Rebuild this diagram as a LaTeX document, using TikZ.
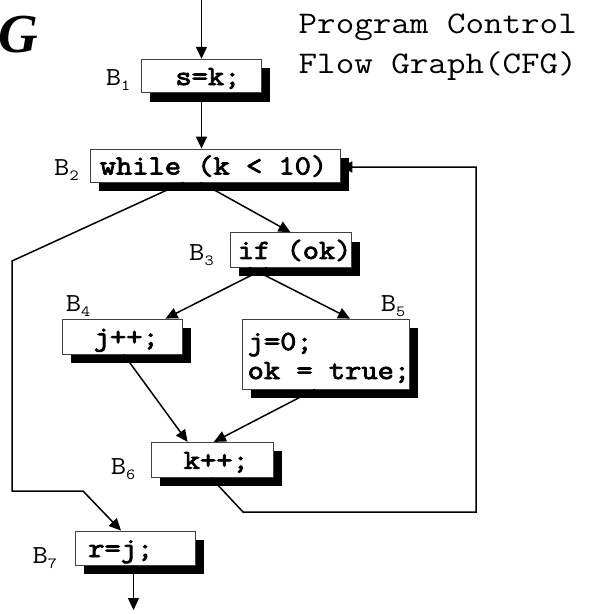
\documentclass[tikz,border=0pt]{standalone}
\usepackage{fontspec}
\setmainfont{Liberation Serif}
\usetikzlibrary{arrows.meta,shadows}
% Courier-like typewriter faces, widened to 0.6em per character
\newfontfamily\plainmono[FakeStretch=1.143]{Latin Modern Mono}
\newfontfamily\boldmono[FakeStretch=1.143,FakeBold=3]{Latin Modern Mono}
\newcommand{\blab}[1]{B\raisebox{-5pt}{\fontsize{15.5}{15.5}\selectfont #1}}
\begin{document}
\begin{tikzpicture}[x=1pt,y=-1pt,
  blk/.style={draw=black!75, line width=0.8pt, fill=white, inner sep=0pt,
    general shadow={fill=black, shadow xshift=8.5pt, shadow yshift=-9pt}},
  code/.style={inner sep=0pt, anchor=base west,
    font=\fontsize{27.6}{29}\selectfont\boldmono},
  lbl/.style={inner sep=0pt, anchor=base west,
    font=\fontsize{26}{26}\selectfont\plainmono},
  ttl/.style={inner sep=0pt, anchor=base west,
    font=\fontsize{31.5}{31.5}\selectfont\plainmono},
  arr/.style={line width=1.5pt, -{Triangle[length=12pt,width=11pt]}}]
\useasboundingbox (0,0) rectangle (592,614);

% heading
\node[inner sep=0pt, anchor=base west,
  font=\fontsize{55}{55}\selectfont\bfseries\itshape] (G) at (-1.5,52.5) {G};
\node[ttl] (title1) at (298.5,33.3) {Program Control};
\node[ttl] (title2) at (298.5,73.3) {Flow Graph(CFG)};

% basic blocks
\node[blk, minimum width=120.3pt, minimum height=33.7pt] (B1) at (201.5,76) {};
\node[blk, minimum width=249.3pt, minimum height=33pt]   (B2) at (215.35,165.5) {};
\node[blk, minimum width=121pt,   minimum height=34.3pt] (B3) at (290.5,249.85) {};
\node[blk, minimum width=120pt,   minimum height=35pt]   (B4) at (122.7,336.5) {};
\node[blk, minimum width=166.7pt, minimum height=70pt]   (B5) at (325.65,354) {};
\node[blk, minimum width=121.6pt, minimum height=35pt]   (B6) at (212.5,459.8) {};
\node[blk, minimum width=120pt,   minimum height=34pt]   (B7) at (135,548) {};

% statements
\node[code] (t1) at ([shift={(34.3,9)}]B1.west) {s=k;};
\node[code] (t2) at ([shift={(9.3,9)}]B2.west) {while (k < 10)};
\node[code] (t3) at ([shift={(8,9)}]B3.west) {if (ok)};
\node[code] (t4) at ([shift={(31.3,9)}]B4.west) {j++;};
\node[code] (t5a) at (247.5,350) {j=0;};
\node[code] (t5b) at (247.5,379) {ok = true;};
\node[code] (t6) at ([shift={(32.3,9)}]B6.west) {k++;};
\node[code] (t7) at ([shift={(13.5,9)}]B7.west) {r=j;};

% block labels
\node[lbl] (l1) at (105.7,85) {\blab{1}};
\node[lbl] (l2) at (54,175) {\blab{2}};
\node[lbl] (l3) at (189,260) {\blab{3}};
\node[lbl] (l4) at (65.7,311) {\blab{4}};
\node[lbl] (l5) at (380.7,311.5) {\blab{5}};
\node[lbl] (l6) at (110.7,474) {\blab{6}};
\node[lbl] (l7) at (32.3,563) {\blab{7}};

% control flow edges
\coordinate (entry) at (201.5,0);
\coordinate (exit) at (133.5,610);
\draw[arr] (entry) -- (B1.north);
\draw[arr] (B1.south) -- (B1.south |- B2.north);
\draw[arr] ([xshift=-14.7pt]B2.south) -- (B3.north);
\draw[arr] ([xshift=-31.6pt]B2.south) -- (12,261) -- (12,491) -- (83,491)
  -- ([xshift=-14pt]B7.north);
\draw[arr] ([xshift=-23.6pt]B3.south) -- ([xshift=42.8pt]B4.north);
\draw[arr] ([xshift=-41.3pt]B3.south) -- ([xshift=24.4pt]B5.north);
\draw[arr] ([xshift=1pt]B4.south) -- ([xshift=-24.9pt]B6.north);
\draw[arr] ([xshift=-10.6pt]B5.south) -- ([xshift=1.4pt]B6.north);
\draw[arr] ([xshift=-1.5pt]B6.south) -- (243,512) -- (476,512) -- (476,167)
  -- ([yshift=-1.5pt]B2.east);
\draw[arr] ([xshift=-1.5pt]B7.south) -- (exit);
\end{tikzpicture}
\end{document}
